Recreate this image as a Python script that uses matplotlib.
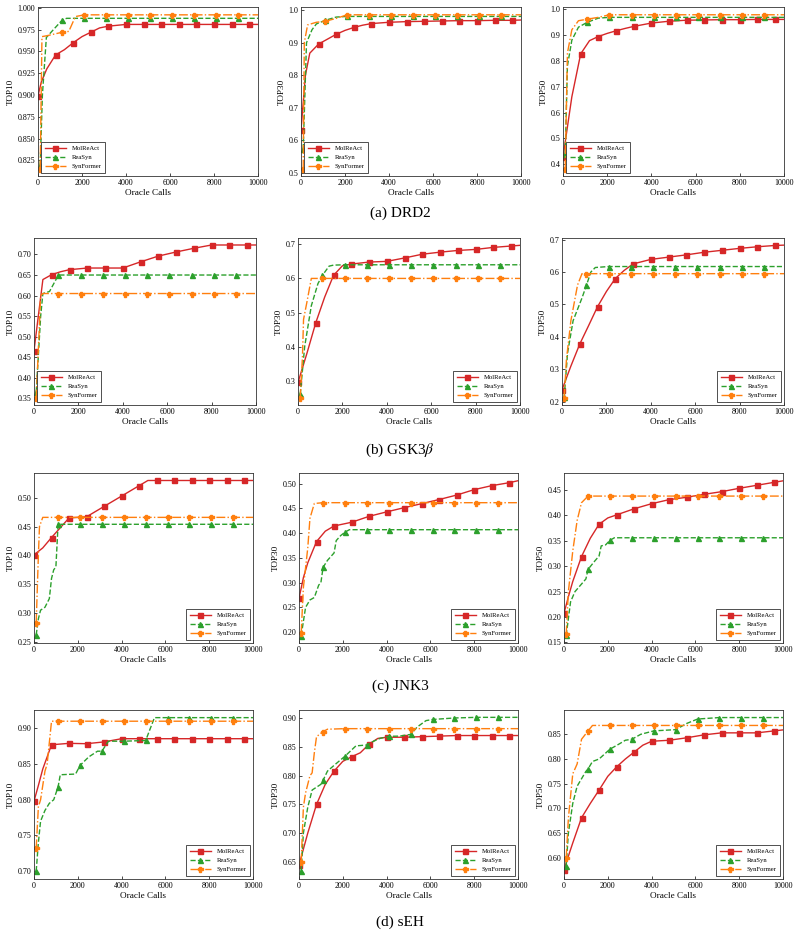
import matplotlib
matplotlib.use('Agg')
import matplotlib.pyplot as plt
import numpy as np

plt.rcParams['font.family'] = ['Liberation Serif', 'DejaVu Serif']
plt.rcParams['mathtext.fontset'] = 'stix'

methods = ['MolReAct', 'ReaSyn', 'SynFormer']
colors = ['#d62728', '#2ca02c', '#ff7f0e']
styles = ['-', '--', '-.']
marks = ['s', '^', 'P']
metrics = ['TOP10', 'TOP30', 'TOP50']
captions = ['(a) DRD2', r'(b) GSK3$\beta$', '(c) JNK3', '(d) sEH']

# ---- DRD2
drd2_t10_mol = [(0,0.899),(150,0.915),(400,0.930),(800,0.946),(1200,0.952),(1600,0.960),(2000,0.967),(2400,0.972),(2800,0.977),(3200,0.979),(4000,0.981),(4800,0.981),(5600,0.981),(6400,0.981),(7200,0.981),(8000,0.981),(8800,0.981),(9600,0.981),(10000,0.981)]
drd2_t10_rea = [(100,0.82),(200,0.90),(380,0.966),(700,0.975),(1100,0.986),(1300,0.988),(2100,0.988),(3100,0.988),(4100,0.988),(5100,0.988),(6100,0.988),(7100,0.988),(8100,0.988),(9100,0.988),(10000,0.988)]
drd2_t10_syn = [(100,0.815),(180,0.967),(400,0.968),(1100,0.972),(1400,0.973),(1700,0.990),(2100,0.992),(3100,0.992),(4100,0.992),(5100,0.992),(6100,0.992),(7100,0.992),(8100,0.992),(9100,0.992),(10000,0.992)]

drd2_t30_mol = [(0,0.631),(200,0.80),(400,0.868),(800,0.896),(1200,0.911),(1600,0.926),(2000,0.938),(2400,0.947),(2800,0.954),(3200,0.959),(4000,0.963),(4800,0.965),(5600,0.966),(6400,0.967),(7200,0.968),(8000,0.968),(8800,0.969),(9600,0.969),(10000,0.970)]
drd2_t30_rea = [(100,0.573),(250,0.90),(500,0.94),(700,0.958),(1100,0.969),(1600,0.979),(2100,0.981),(3100,0.981),(4100,0.981),(5100,0.981),(6100,0.981),(7100,0.981),(8100,0.981),(9100,0.981),(10000,0.981)]
drd2_t30_syn = [(100,0.513),(150,0.90),(300,0.955),(700,0.963),(1100,0.966),(1600,0.975),(2100,0.986),(3100,0.986),(4100,0.986),(5100,0.986),(6100,0.986),(7100,0.986),(8100,0.986),(9100,0.986),(10000,0.986)]

drd2_t50_mol = [(0,0.428),(400,0.661),(800,0.827),(1200,0.878),(1600,0.894),(2000,0.906),(2400,0.916),(2800,0.925),(3200,0.933),(4000,0.946),(4800,0.953),(5600,0.957),(6400,0.958),(7200,0.959),(8000,0.959),(8800,0.960),(9600,0.960),(10000,0.960)]
drd2_t50_rea = [(100,0.44),(200,0.78),(400,0.88),(700,0.93),(1100,0.949),(1600,0.965),(2100,0.968),(3100,0.968),(4100,0.968),(5100,0.968),(6100,0.968),(7100,0.968),(8100,0.968),(9100,0.968),(10000,0.968)]
drd2_t50_syn = [(100,0.383),(200,0.83),(400,0.92),(700,0.955),(1100,0.961),(1600,0.968),(2100,0.978),(3100,0.978),(4100,0.978),(5100,0.978),(6100,0.978),(7100,0.978),(8100,0.978),(9100,0.978),(10000,0.978)]

# ---- GSK3b
gsk_t10_mol = [(0,0.466),(400,0.639),(800,0.651),(1200,0.658),(1600,0.663),(2400,0.667),(3200,0.667),(4000,0.667),(4800,0.682),(5600,0.696),(6400,0.706),(7200,0.715),(8000,0.723),(8800,0.723),(9600,0.723),(10000,0.723)]
gsk_t10_rea = [(100,0.366),(300,0.55),(400,0.605),(700,0.61),(1100,0.65),(2100,0.65),(3100,0.65),(4100,0.65),(5100,0.65),(6100,0.65),(7100,0.65),(8100,0.65),(9100,0.65),(10000,0.65)]
gsk_t10_syn = [(100,0.35),(300,0.60),(400,0.605),(1100,0.605),(2100,0.605),(3100,0.605),(4100,0.605),(5100,0.605),(6100,0.605),(7100,0.605),(8100,0.605),(9100,0.605),(10000,0.605)]

gsk_t30_mol = [(0,0.295),(400,0.38),(800,0.470),(1200,0.545),(1600,0.609),(2000,0.637),(2400,0.642),(3200,0.648),(4000,0.650),(4800,0.660),(5600,0.671),(6400,0.677),(7200,0.682),(8000,0.685),(8800,0.691),(9600,0.695),(10000,0.697)]
gsk_t30_rea = [(100,0.26),(300,0.40),(600,0.52),(900,0.585),(1100,0.609),(1400,0.636),(1600,0.639),(2100,0.64),(3100,0.64),(4100,0.64),(5100,0.64),(6100,0.64),(7100,0.64),(8100,0.64),(9100,0.64),(10000,0.64)]
gsk_t30_syn = [(100,0.25),(200,0.37),(250,0.48),(400,0.53),(600,0.60),(1100,0.60),(2100,0.60),(3100,0.60),(4100,0.60),(5100,0.60),(6100,0.60),(7100,0.60),(8100,0.60),(9100,0.60),(10000,0.60)]

gsk_t50_mol = [(0,0.237),(400,0.31),(800,0.378),(1200,0.435),(1600,0.493),(2000,0.54),(2400,0.58),(2800,0.605),(3200,0.625),(4000,0.639),(4800,0.646),(5600,0.653),(6400,0.661),(7200,0.667),(8000,0.673),(8800,0.678),(9600,0.682),(10000,0.683)]
gsk_t50_rea = [(100,0.215),(250,0.35),(500,0.45),(900,0.52),(1100,0.559),(1300,0.60),(1500,0.614),(2100,0.617),(3100,0.617),(4100,0.617),(5100,0.617),(6100,0.617),(7100,0.617),(8100,0.617),(9100,0.617),(10000,0.617)]
gsk_t50_syn = [(100,0.212),(200,0.33),(400,0.45),(700,0.56),(900,0.595),(1100,0.595),(2100,0.595),(3100,0.595),(4100,0.595),(5100,0.595),(6100,0.595),(7100,0.595),(8100,0.595),(9100,0.595),(10000,0.595)]

# ---- JNK3
jnk_t10_mol = [(0,0.401),(400,0.413),(800,0.431),(1200,0.448),(1600,0.465),(2400,0.467),(3200,0.485),(4000,0.503),(4800,0.521),(5200,0.53),(5600,0.53),(6400,0.53),(7200,0.53),(8000,0.53),(8800,0.53),(9600,0.53),(10000,0.53)]
jnk_t10_rea = [(100,0.262),(200,0.29),(300,0.305),(500,0.31),(700,0.325),(800,0.36),(900,0.375),(1000,0.38),(1100,0.454),(2100,0.454),(3100,0.454),(4100,0.454),(5100,0.454),(6100,0.454),(7100,0.454),(8100,0.454),(9100,0.454),(10000,0.454)]
jnk_t10_syn = [(100,0.283),(200,0.40),(250,0.45),(400,0.466),(1100,0.466),(2100,0.466),(3100,0.466),(4100,0.466),(5100,0.466),(6100,0.466),(7100,0.466),(8100,0.466),(9100,0.466),(10000,0.466)]

jnk_t30_mol = [(0,0.268),(200,0.31),(400,0.34),(800,0.383),(1200,0.404),(1600,0.4145),(2400,0.422),(3200,0.434),(4000,0.443),(4800,0.4515),(5600,0.4596),(6400,0.468),(7200,0.477),(8000,0.488),(8800,0.496),(9600,0.502),(10000,0.506)]
jnk_t30_rea = [(100,0.193),(300,0.25),(500,0.265),(700,0.27),(900,0.295),(1000,0.30),(1100,0.331),(1300,0.345),(1500,0.355),(1600,0.36),(1700,0.385),(1900,0.395),(2100,0.402),(2300,0.407),(3100,0.407),(4100,0.407),(5100,0.407),(6100,0.407),(7100,0.407),(8100,0.407),(9100,0.407),(10000,0.407)]
jnk_t30_syn = [(100,0.199),(200,0.29),(400,0.37),(500,0.43),(700,0.46),(1100,0.4616),(2100,0.4616),(3100,0.4616),(4100,0.4616),(5100,0.4616),(6100,0.4616),(7100,0.4616),(8100,0.4616),(9100,0.4616),(10000,0.4616)]

jnk_t50_mol = [(0,0.2075),(200,0.24),(400,0.27),(800,0.319),(1200,0.355),(1600,0.3825),(2000,0.395),(2400,0.401),(3200,0.413),(4000,0.423),(4800,0.431),(5600,0.4356),(6400,0.4415),(7200,0.4467),(8000,0.4533),(8800,0.4592),(9600,0.4651),(10000,0.468)]
jnk_t50_rea = [(100,0.164),(300,0.23),(500,0.25),(800,0.265),(1000,0.275),(1100,0.294),(1400,0.31),(1600,0.32),(1700,0.34),(1900,0.342),(2100,0.351),(2300,0.356),(3100,0.356),(4100,0.356),(5100,0.356),(6100,0.356),(7100,0.356),(8100,0.356),(9100,0.356),(10000,0.356)]
jnk_t50_syn = [(100,0.166),(200,0.25),(400,0.33),(600,0.39),(800,0.425),(1100,0.438),(2100,0.438),(3100,0.438),(4100,0.438),(5100,0.438),(6100,0.438),(7100,0.438),(8100,0.438),(9100,0.438),(10000,0.438)]

# ---- sEH
seh_t10_mol = [(0,0.798),(200,0.82),(400,0.843),(600,0.86),(800,0.877),(1600,0.879),(2400,0.8785),(3200,0.881),(4000,0.8855),(4800,0.8855),(5600,0.8855),(6400,0.8855),(7200,0.8855),(8000,0.8855),(8800,0.8855),(9600,0.8855),(10000,0.8855)]
seh_t10_rea = [(100,0.70),(200,0.74),(300,0.77),(500,0.785),(700,0.795),(900,0.80),(1100,0.818),(1200,0.835),(1900,0.836),(2100,0.848),(2500,0.86),(2900,0.868),(3100,0.868),(3400,0.882),(4100,0.882),(5100,0.883),(5500,0.915),(6100,0.915),(7100,0.915),(8100,0.915),(9100,0.915),(10000,0.915)]
seh_t10_syn = [(100,0.732),(200,0.79),(300,0.80),(500,0.84),(600,0.85),(800,0.91),(1100,0.91),(2100,0.91),(3100,0.91),(4100,0.91),(5100,0.91),(6100,0.91),(7100,0.91),(8100,0.91),(9100,0.91),(10000,0.91)]

seh_t30_mol = [(0,0.644),(400,0.70),(800,0.75),(1200,0.785),(1600,0.808),(2000,0.825),(2400,0.833),(2800,0.84),(3200,0.855),(3600,0.865),(4000,0.867),(4800,0.867),(5600,0.868),(6400,0.869),(7200,0.870),(8000,0.870),(8800,0.870),(9600,0.870),(10000,0.870)]
seh_t30_rea = [(100,0.634),(200,0.70),(400,0.745),(600,0.775),(800,0.78),(1000,0.785),(1100,0.792),(1300,0.808),(1600,0.818),(2100,0.834),(2600,0.852),(3100,0.8535),(3400,0.86),(3700,0.865),(4100,0.8686),(4600,0.869),(5100,0.872),(5400,0.885),(5800,0.896),(6100,0.898),(7100,0.9006),(8100,0.9017),(9100,0.9017),(10000,0.9017)]
seh_t30_syn = [(100,0.649),(200,0.745),(300,0.77),(500,0.80),(600,0.805),(700,0.84),(800,0.868),(1100,0.877),(1300,0.881),(2100,0.882),(3100,0.882),(4100,0.882),(5100,0.882),(6100,0.882),(7100,0.882),(8100,0.882),(9100,0.882),(10000,0.882)]

seh_t50_mol = [(0,0.575),(100,0.59),(400,0.63),(800,0.681),(1200,0.71),(1600,0.737),(2000,0.765),(2400,0.784),(2800,0.80),(3200,0.814),(3600,0.828),(4000,0.836),(4800,0.838),(5600,0.843),(6400,0.849),(7200,0.853),(8000,0.853),(8800,0.853),(9600,0.857),(10000,0.859)]
seh_t50_rea = [(100,0.584),(200,0.65),(400,0.71),(600,0.745),(800,0.76),(1000,0.775),(1100,0.780),(1300,0.795),(1600,0.80),(2100,0.820),(2500,0.83),(2800,0.838),(3100,0.840),(3500,0.85),(4100,0.857),(5100,0.8595),(5600,0.872),(6100,0.881),(7100,0.884),(8100,0.884),(9100,0.884),(10000,0.884)]
seh_t50_syn = [(100,0.60),(200,0.68),(400,0.77),(600,0.79),(800,0.84),(1100,0.857),(1300,0.868),(2100,0.868),(3100,0.868),(4100,0.868),(5100,0.868),(6100,0.868),(7100,0.868),(8100,0.868),(9100,0.868),(10000,0.868)]

panels = [
    [[drd2_t10_mol, drd2_t10_rea, drd2_t10_syn], [drd2_t30_mol, drd2_t30_rea, drd2_t30_syn], [drd2_t50_mol, drd2_t50_rea, drd2_t50_syn]],
    [[gsk_t10_mol, gsk_t10_rea, gsk_t10_syn], [gsk_t30_mol, gsk_t30_rea, gsk_t30_syn], [gsk_t50_mol, gsk_t50_rea, gsk_t50_syn]],
    [[jnk_t10_mol, jnk_t10_rea, jnk_t10_syn], [jnk_t30_mol, jnk_t30_rea, jnk_t30_syn], [jnk_t50_mol, jnk_t50_rea, jnk_t50_syn]],
    [[seh_t10_mol, seh_t10_rea, seh_t10_syn], [seh_t30_mol, seh_t30_rea, seh_t30_syn], [seh_t50_mol, seh_t50_rea, seh_t50_syn]],
]

ylims = [
    [(0.807, 1.001), (0.49, 1.01), (0.355, 1.008)],
    [(0.334, 0.74), (0.229, 0.7185), (0.19, 0.705)],
    [(0.248, 0.543), (0.178, 0.5216), (0.149, 0.4834)],
    [(0.689, 0.9257), (0.62, 0.9145), (0.557, 0.8993)],
]
ysteps = [[0.025, 0.1, 0.1], [0.05, 0.1, 0.1], [0.05, 0.05, 0.05], [0.05, 0.05, 0.05]]
yfmt = [['%.3f', '%.1f', '%.1f'], ['%.2f', '%.1f', '%.1f'], ['%.2f', '%.2f', '%.2f'], ['%.2f', '%.2f', '%.2f']]
legloc = [['lower left'] * 3, ['lower left', 'lower right', 'lower right'], ['lower right'] * 3, ['lower right'] * 3]

# axes boxes in pixels: left, top, right, bottom
boxes = [
    [(38, 7, 258, 176), (301, 7, 521, 176), (563, 7, 784, 176)],
    [(34, 238, 256, 405), (298, 238, 520, 405), (562, 238, 784, 405)],
    [(34, 473, 253, 643), (299, 473, 518, 643), (564, 473, 783, 643)],
    [(34, 710, 253, 879), (299, 710, 518, 879), (564, 710, 783, 879)],
]
cap_y = [213, 450, 686, 922]

W, H = 799, 939
fig = plt.figure(figsize=(W / 100, H / 100), dpi=100)

for r in range(4):
    for c in range(3):
        l, t, rt, b = boxes[r][c]
        ax = fig.add_axes([l / W, 1 - b / H, (rt - l) / W, (b - t) / H])
        for k in range(3):
            pts = np.array(panels[r][c][k])
            x, y = pts[:, 0], pts[:, 1]
            if k == 0:
                mk = list(np.where((x % 800 == 0) & (x < 10000))[0])
            else:
                mk = list(np.where(x % 1000 == 100)[0])
            ax.plot(x, y, linestyle=styles[k], color=colors[k], lw=1.0,
                    marker=marks[k], markersize=3.6, markevery=mk, label=methods[k])
        ax.set_xlim(0, 10000)
        ax.set_ylim(*ylims[r][c])
        lo, hi = ylims[r][c]
        st = ysteps[r][c]
        ticks = np.arange(np.ceil(lo / st - 1e-6) * st, hi + 1e-9, st)
        ax.set_yticks(ticks)
        ax.set_yticklabels([yfmt[r][c] % v for v in ticks])
        ax.set_xticks(np.arange(0, 10001, 2000))
        ax.tick_params(direction='in', length=2.5, width=0.5, labelsize=5.8, pad=2)
        for s in ax.spines.values():
            s.set_linewidth(0.6)
            s.set_color('#333333')
        ax.set_xlabel('Oracle Calls', fontsize=6.6, labelpad=1.5)
        ax.set_ylabel(metrics[c], fontsize=6.6, labelpad=2)
        leg = ax.legend(loc=legloc[r][c], fontsize=4.8, fancybox=False, framealpha=1,
                        edgecolor='#333333', handlelength=3.2, borderpad=0.5, labelspacing=0.5)
        leg.get_frame().set_linewidth(0.6)
    fig.text(400 / W, 1 - cap_y[r] / H, captions[r], ha='center', va='center', fontsize=11)

fig.savefig('out.png', dpi=100)
